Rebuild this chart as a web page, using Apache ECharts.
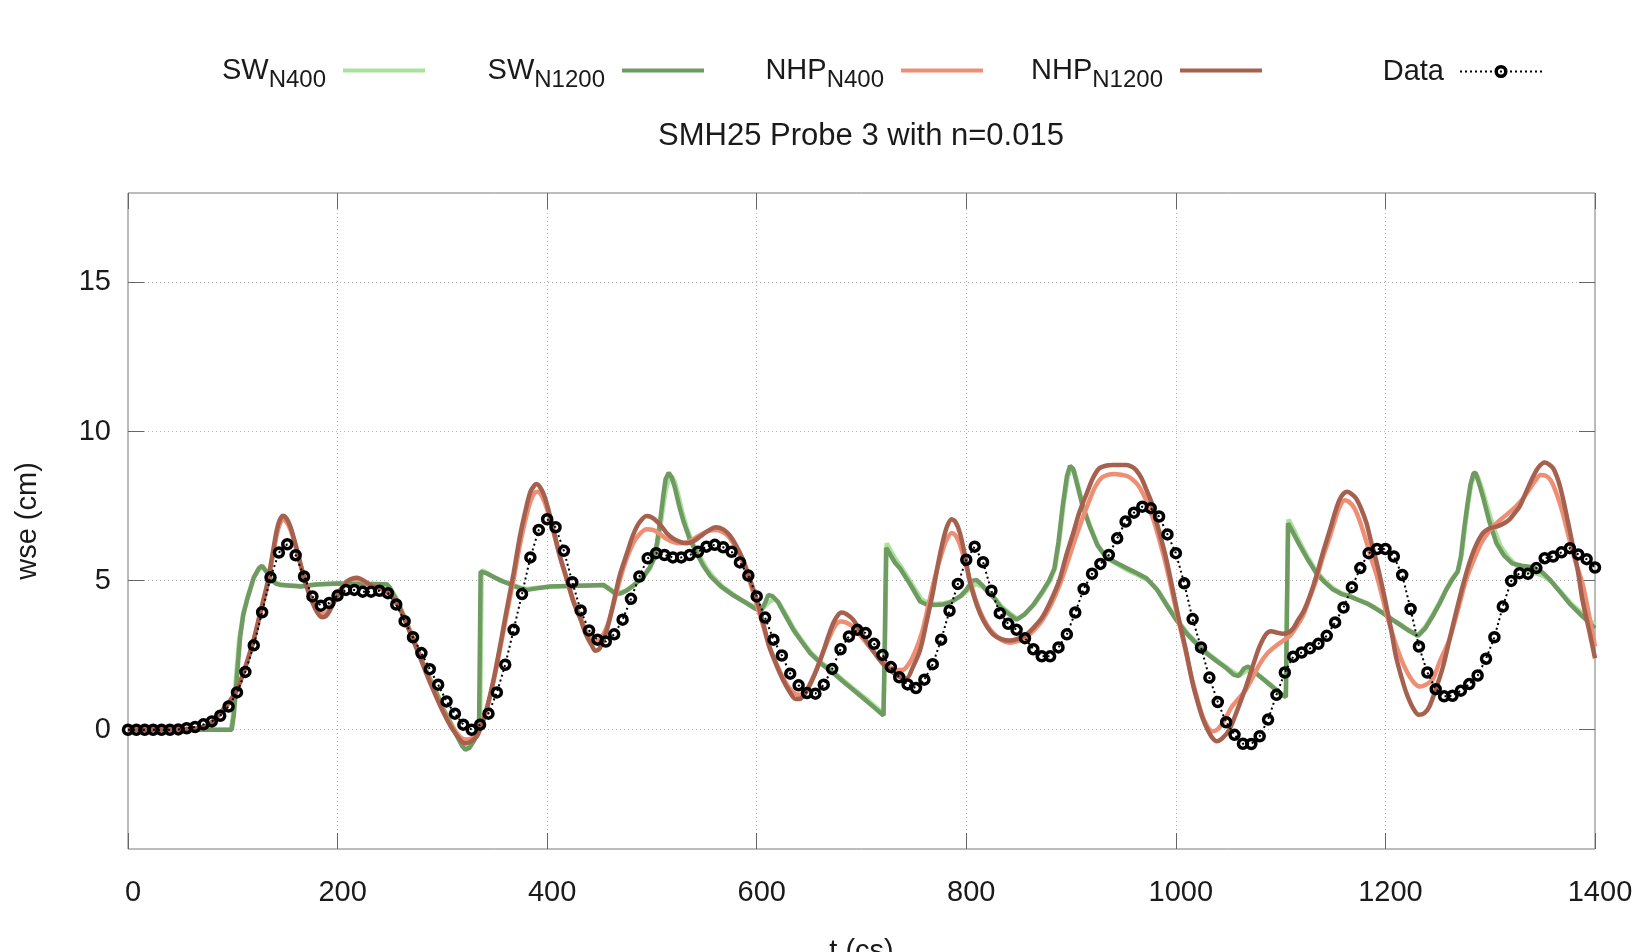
<!DOCTYPE html>
<html lang="en">
<head>
<meta charset="UTF-8">
<title>SMH25 Probe 3</title>
<script src="https://cdn.jsdelivr.net/npm/echarts@6/dist/echarts.min.js"></script>
<style>
  html, body { margin: 0; padding: 0; background: #fff; }
  #chart { width: 1633px; height: 952px; }
</style>
</head>
<body>
<div id="chart"></div>
<script>
// ---- data ----
var xTicks = [0, 1400, 200];          // min, max, step (t in cs)
var yTicks = [0, 5, 10, 15];          // labelled wse ticks

// measured probe data, one sample every 8 cs from t=0
var DATA_DT = 8;
var probeData = [
  0, 0, 0, 0, 0, 0, 0.01, 0.05, 0.09, 0.18,
  0.28, 0.47, 0.78, 1.25, 1.94, 2.83, 3.94, 5.11, 5.94, 6.22,
  5.85, 5.14, 4.47, 4.16, 4.25, 4.5, 4.69, 4.69, 4.63, 4.63,
  4.66, 4.58, 4.2, 3.64, 3.1, 2.57, 2.03, 1.51, 0.95, 0.54,
  0.17, 0.0, 0.17, 0.54, 1.25, 2.18, 3.35, 4.55, 5.78, 6.7,
  7.06, 6.79, 6.0, 4.95, 4.0, 3.33, 3.02, 2.96, 3.2, 3.69,
  4.39, 5.14, 5.75, 5.92, 5.86, 5.78, 5.78, 5.86, 5.97, 6.14,
  6.2, 6.12, 5.97, 5.61, 5.17, 4.47, 3.76, 3.02, 2.49, 1.88,
  1.49, 1.23, 1.21, 1.51, 2.04, 2.7, 3.13, 3.35, 3.24, 2.88,
  2.51, 2.1, 1.76, 1.52, 1.4, 1.68, 2.2, 3.02, 3.99, 4.89,
  5.7, 6.14, 5.62, 4.66, 3.91, 3.55, 3.35, 3.07, 2.7, 2.46,
  2.46, 2.76, 3.2, 3.93, 4.72, 5.23, 5.56, 5.86, 6.42, 6.98,
  7.28, 7.48, 7.43, 7.15, 6.55, 5.92, 4.91, 3.71, 2.76, 1.75,
  0.93, 0.25, -0.17, -0.47, -0.48, -0.22, 0.34, 1.17, 1.92, 2.45,
  2.59, 2.73, 2.88, 3.15, 3.6, 4.1, 4.78, 5.42, 5.92, 6.06,
  6.06, 5.81, 5.19, 4.05, 2.79, 1.92, 1.36, 1.12, 1.14, 1.31,
  1.53, 1.82, 2.38, 3.1, 4.13, 4.99, 5.25, 5.23, 5.42, 5.75,
  5.81, 5.95, 6.09, 5.88, 5.72, 5.44
];

// model runs as [t, wse]
var swN1200 = [
  [0,0],[99,0],[101,0.5],[104,1.8],[107,3.1],[110,3.85],[114,4.4],[120,5.1],[125,5.42],[128,5.5],
  [132,5.3],[136,5.05],[141,4.9],[146,4.85],[165,4.8],[180,4.87],[200,4.9],[247,4.88],[250,4.75],[257,4.3],
  [263,3.8],[270,3.2],[278,2.5],[286,1.85],[294,1.25],[301,0.67],[308,0.2],[314,-0.22],[319,-0.55],[322,-0.67],
  [326,-0.6],[330,-0.38],[334,-0.05],[335,0.05],[336.5,5.3],[342,5.25],[349,5.12],[356,5.0],[362,4.92],[370,4.8],
  [376,4.72],[381,4.69],[390,4.74],[403,4.8],[420,4.82],[440,4.84],[454,4.85],[460,4.7],[465,4.56],[470,4.57],
  [476,4.67],[483,4.85],[492,5.14],[498,5.45],[502,5.75],[505,6.3],[508,7.05],[511,7.9],[513,8.4],[516,8.62],
  [519,8.45],[522,8.1],[526,7.5],[530,7.0],[536,6.4],[543,5.9],[549,5.5],[556,5.14],[566,4.8],[578,4.5],
  [590,4.25],[598,4.07],[604,3.98],[608,4.25],[611,4.52],[615,4.48],[620,4.3],[627,3.85],[635,3.35],[643,2.95],
  [651,2.57],[662,2.2],[673,1.9],[683,1.6],[692,1.34],[702,1.05],[712,0.75],[721,0.48],[722,2.5],[723.5,6.1],
  [727,5.9],[732,5.6],[737,5.4],[746,4.9],[756,4.3],[762,4.2],[769,4.18],[778,4.2],[785,4.27],[795,4.5],
  [800,4.69],[806,5.0],[810,5.02],[815,4.85],[820,4.65],[827,4.4],[833,4.1],[840,3.9],[848,3.69],[855,3.85],
  [864,4.19],[872,4.6],[879,5.0],[884,5.4],[888,6.3],[892,7.5],[896,8.5],[899,8.85],[902,8.75],[906,8.2],
  [911,7.5],[918,6.8],[925,6.2],[933,5.8],[943,5.6],[953,5.42],[963,5.25],[972,5.08],[982,4.7],[991,4.19],
  [1000,3.7],[1010,3.24],[1020,2.87],[1029,2.57],[1039,2.3],[1048,2.07],[1055,1.85],[1060,1.8],[1065,2.05],[1069,2.12],
  [1074,1.98],[1080,1.79],[1090,1.5],[1100,1.2],[1105,1.1],[1106,4.0],[1107,6.92],[1112,6.6],[1118,6.2],[1126,5.7],
  [1134,5.25],[1142,4.95],[1150,4.7],[1158,4.55],[1166,4.47],[1174,4.35],[1182,4.24],[1190,4.08],[1198,3.9],[1206,3.7],
  [1214,3.52],[1222,3.33],[1231,3.15],[1238,3.4],[1245,3.8],[1252,4.25],[1258,4.69],[1264,5.05],[1269,5.3],[1272,5.8],
  [1275,6.7],[1278,7.5],[1281,8.2],[1284,8.6],[1286,8.62],[1289,8.3],[1293,7.82],[1299,7.0],[1306,6.25],[1313,5.85],
  [1321,5.58],[1330,5.5],[1341,5.45],[1349,5.3],[1357,5.03],[1366,4.65],[1376,4.22],[1388,3.8],[1400,3.41]
];

var swN400 = [
  [0,0],[98,0],[100,0.4],[103,1.7],[106,3.0],[110,3.9],[114,4.45],[120,5.1],[125,5.38],[129,5.45],
  [133,5.28],[137,5.05],[142,4.92],[147,4.86],[165,4.82],[180,4.88],[200,4.9],[247,4.88],[250,4.78],[257,4.35],
  [263,3.85],[270,3.25],[278,2.55],[286,1.9],[294,1.3],[301,0.72],[308,0.25],[314,-0.15],[319,-0.45],[323,-0.58],
  [327,-0.52],[331,-0.3],[335,0.0],[336,0.1],[337.5,5.35],[343,5.25],[349,5.12],[356,5.0],[362,4.92],[370,4.82],
  [376,4.75],[381,4.72],[390,4.76],[403,4.8],[420,4.82],[440,4.84],[454,4.85],[460,4.72],[465,4.6],[470,4.6],
  [476,4.68],[483,4.86],[492,5.12],[498,5.4],[503,5.8],[507,6.5],[510,7.3],[513,8.0],[516,8.4],[519,8.5],
  [522,8.3],[525,7.9],[529,7.3],[533,6.8],[539,6.25],[546,5.8],[552,5.42],[559,5.1],[568,4.78],[580,4.48],
  [592,4.22],[600,4.1],[606,4.08],[611,4.25],[616,4.38],[621,4.28],[628,3.85],[636,3.35],[644,2.95],[652,2.58],
  [663,2.22],[674,1.92],[684,1.62],[693,1.36],[703,1.08],[713,0.78],[721,0.55],[722.5,2.8],[724,6.25],[728,6.0],
  [733,5.7],[738,5.45],[747,4.95],[757,4.38],[763,4.26],[770,4.22],[779,4.24],[786,4.3],[796,4.5],[801,4.66],
  [806,4.82],[810,4.88],[815,4.8],[821,4.62],[828,4.38],[834,4.12],[841,3.92],[849,3.72],[856,3.88],[865,4.2],
  [873,4.6],[880,5.0],[885,5.45],[889,6.4],[893,7.6],[897,8.5],[900,8.8],[903,8.68],[907,8.15],[912,7.45],
  [919,6.75],[926,6.15],[934,5.75],[944,5.55],[954,5.35],[964,5.18],[974,5.0],[984,4.62],[993,4.12],[1002,3.65],
  [1012,3.2],[1022,2.85],[1031,2.55],[1041,2.28],[1050,2.05],[1057,1.88],[1062,1.85],[1066,1.95],[1070,1.98],[1075,1.92],
  [1081,1.78],[1091,1.5],[1100,1.22],[1105,1.12],[1106,4.1],[1107.5,7.05],[1112,6.75],[1118,6.3],[1126,5.78],[1134,5.32],
  [1142,5.0],[1150,4.75],[1158,4.58],[1166,4.48],[1174,4.36],[1182,4.25],[1190,4.1],[1198,3.92],[1206,3.72],[1214,3.54],
  [1222,3.35],[1231,3.18],[1238,3.45],[1245,3.85],[1252,4.3],[1258,4.72],[1264,5.08],[1269,5.32],[1273,5.9],[1276,6.8],
  [1279,7.6],[1282,8.25],[1285,8.55],[1288,8.5],[1292,8.1],[1297,7.5],[1303,6.8],[1310,6.15],[1317,5.8],[1325,5.5],
  [1334,5.32],[1343,5.25],[1351,5.15],[1359,4.95],[1368,4.6],[1378,4.2],[1390,3.85],[1400,3.5]
];

var nhpN1200 = [
  [0,0],[50,0.02],[69,0.06],[80,0.25],[88,0.56],[96,0.9],[104,1.34],[112,2.1],[120,3.02],[126,3.9],
  [133,4.91],[138,5.9],[142,6.7],[145,7.05],[148,7.18],[151,7.1],[155,6.81],[160,6.2],[165,5.5],[170,4.85],
  [175,4.35],[180,3.97],[185,3.77],[190,3.85],[196,4.24],[202,4.62],[209,4.97],[214,5.07],[219,5.1],[225,5.0],
  [231,4.86],[240,4.75],[247,4.63],[253,4.4],[260,4.02],[267,3.45],[276,2.68],[284,1.95],[292,1.28],[300,0.65],
  [308,0.11],[314,-0.2],[318,-0.38],[322,-0.45],[327,-0.4],[333,-0.22],[338,0.2],[343,0.78],[349,1.7],[355,2.79],
  [361,3.95],[368,5.25],[374,6.48],[379,7.3],[384,7.98],[388,8.2],[390,8.24],[393,8.15],[397,7.87],[401,7.4],
  [406,6.7],[412,5.85],[419,5.03],[425,4.3],[432,3.69],[437,3.2],[443,2.8],[446,2.65],[450,2.72],[457,3.35],
  [463,4.2],[469,5.14],[476,5.9],[482,6.53],[488,6.95],[495,7.17],[501,7.1],[508,6.87],[514,6.6],[520,6.42],
  [527,6.3],[533,6.25],[540,6.33],[546,6.48],[553,6.66],[561,6.79],[568,6.72],[574,6.53],[580,6.2],[587,5.7],
  [593,5.1],[600,4.36],[606,3.6],[612,2.79],[619,2.15],[625,1.68],[631,1.3],[637,1.03],[641,1.03],[645,1.15],
  [650,1.45],[657,2.0],[663,2.57],[668,3.1],[673,3.57],[677,3.82],[681,3.93],[686,3.87],[692,3.69],[698,3.35],
  [705,2.96],[712,2.6],[720,2.23],[727,2.0],[733,1.84],[738,1.75],[743,1.72],[749,2.1],[756,2.68],[762,3.6],
  [768,4.58],[773,5.55],[778,6.37],[782,6.85],[786,7.06],[790,6.95],[794,6.59],[799,5.8],[803,5.03],[808,4.4],
  [813,3.91],[819,3.5],[826,3.18],[833,3.05],[841,2.99],[849,3.05],[857,3.18],[865,3.45],[873,3.8],[881,4.35],
  [889,5.03],[895,5.8],[902,6.59],[908,7.3],[915,7.93],[921,8.45],[927,8.77],[934,8.86],[940,8.88],[947,8.88],
  [953,8.88],[958,8.82],[962,8.71],[967,8.45],[972,8.04],[977,7.6],[981,7.04],[986,6.4],[991,5.7],[997,4.7],
  [1003,3.69],[1010,2.6],[1016,1.56],[1021,0.9],[1026,0.34],[1031,-0.05],[1035,-0.28],[1039,-0.39],[1044,-0.3],[1051,0.0],
  [1058,0.6],[1067,1.45],[1074,2.2],[1080,2.8],[1086,3.2],[1091,3.3],[1096,3.26],[1102,3.22],[1107,3.25],[1112,3.4],
  [1117,3.7],[1122,3.98],[1128,4.5],[1134,5.14],[1140,5.9],[1147,6.7],[1152,7.3],[1156,7.7],[1160,7.92],[1164,7.98],
  [1168,7.9],[1172,7.76],[1177,7.4],[1182,6.92],[1186,6.35],[1191,5.7],[1196,4.95],[1201,4.13],[1206,3.25],[1210,2.46],
  [1215,1.8],[1220,1.23],[1226,0.75],[1232,0.5],[1237,0.55],[1242,0.78],[1248,1.35],[1255,2.12],[1261,3.0],[1268,4.02],
  [1274,4.85],[1280,5.58],[1286,6.15],[1293,6.59],[1299,6.75],[1306,6.81],[1312,6.9],[1318,7.04],[1323,7.25],[1328,7.48],
  [1334,7.95],[1341,8.49],[1346,8.8],[1352,8.96],[1356,8.9],[1360,8.77],[1365,8.35],[1369,7.82],[1374,7.0],[1379,6.14],
  [1384,5.25],[1388,4.36],[1394,3.4],[1400,2.4]
];

var nhpN400 = [
  [0,0],[50,0.02],[69,0.06],[80,0.25],[88,0.56],[96,0.9],[104,1.34],[112,2.1],[120,3.02],[126,3.85],
  [133,4.85],[138,5.8],[142,6.55],[145,6.9],[148,7.05],[151,6.98],[155,6.72],[160,6.15],[165,5.5],[170,4.9],
  [175,4.4],[180,4.05],[185,3.88],[190,3.95],[196,4.3],[202,4.66],[209,4.98],[214,5.05],[219,5.05],[225,4.97],
  [231,4.86],[240,4.75],[247,4.63],[253,4.42],[260,4.05],[267,3.5],[276,2.72],[284,2.0],[292,1.33],[300,0.7],
  [308,0.17],[314,-0.12],[318,-0.27],[322,-0.33],[327,-0.3],[333,-0.12],[338,0.25],[343,0.8],[349,1.65],[355,2.7],
  [361,3.8],[368,5.05],[374,6.2],[379,7.0],[384,7.65],[388,7.95],[391,7.98],[394,7.9],[398,7.6],[402,7.15],
  [407,6.5],[413,5.7],[419,5.0],[425,4.35],[432,3.75],[438,3.25],[444,2.98],[448,2.96],[452,3.1],[458,3.55],
  [464,4.3],[470,5.1],[476,5.75],[482,6.25],[488,6.55],[495,6.72],[501,6.7],[508,6.55],[514,6.4],[520,6.3],
  [527,6.25],[533,6.28],[540,6.4],[547,6.55],[555,6.68],[562,6.7],[569,6.6],[575,6.4],[581,6.05],[588,5.5],
  [594,4.9],[600,4.2],[606,3.5],[612,2.8],[619,2.2],[625,1.75],[631,1.4],[637,1.2],[642,1.17],[646,1.25],
  [651,1.55],[658,2.1],[664,2.65],[670,3.15],[675,3.5],[680,3.63],[685,3.6],[692,3.45],[698,3.2],[705,2.9],
  [712,2.6],[720,2.3],[727,2.1],[733,2.0],[739,2.0],[745,2.2],[751,2.6],[758,3.3],[764,4.2],[770,5.1],
  [776,5.85],[781,6.35],[786,6.6],[790,6.5],[794,6.2],[799,5.6],[804,4.95],[809,4.35],[814,3.9],[820,3.5],
  [827,3.2],[834,3.0],[841,2.92],[849,2.97],[857,3.1],[865,3.35],[873,3.7],[881,4.2],[889,4.85],[896,5.55],
  [903,6.3],[910,7.0],[917,7.65],[923,8.15],[929,8.45],[935,8.55],[941,8.58],[948,8.55],[954,8.5],[959,8.38],
  [964,8.2],[969,7.9],[974,7.5],[979,7.0],[984,6.4],[989,5.75],[995,4.85],[1001,3.9],[1008,2.85],[1014,1.9],
  [1020,1.1],[1025,0.5],[1030,0.12],[1035,-0.05],[1040,0.02],[1046,0.3],[1053,0.75],[1060,1.05],[1067,1.35],[1074,1.8],
  [1080,2.2],[1087,2.55],[1095,2.8],[1103,3.0],[1109,3.15],[1115,3.45],[1121,3.8],[1127,4.35],[1134,5.03],[1140,5.75],
  [1147,6.48],[1152,7.05],[1156,7.45],[1161,7.7],[1165,7.65],[1170,7.45],[1175,7.05],[1181,6.4],[1186,5.8],[1191,5.25],
  [1196,4.6],[1201,3.9],[1206,3.3],[1211,2.75],[1217,2.2],[1223,1.79],[1228,1.55],[1233,1.45],[1238,1.5],[1245,1.68],
  [1252,2.3],[1261,3.02],[1269,4.0],[1277,5.03],[1285,5.75],[1292,6.3],[1300,6.7],[1310,7.05],[1321,7.37],[1330,7.7],
  [1337,8.04],[1343,8.35],[1348,8.54],[1353,8.52],[1358,8.35],[1364,7.85],[1369,7.3],[1374,6.6],[1380,5.8],[1388,4.91],
  [1394,3.9],[1400,2.79]
];

// legend names with their subscripts
var seriesNames = ['SW_N400', 'SW_N1200', 'NHP_N400', 'NHP_N1200', 'Data'];
var seriesColors = ['#a9e29a', '#6f9b63', '#ee8f75', '#a6604e', '#000000'];

var FONT = 'Liberation Sans';
var TXT = '#1a1a1a';

function legendText(name) {
    var p = name.split('_');
    if (p.length < 2) return '{m|' + name + '}{g|}';
    return '{m|' + p[0] + '}{s|' + p[1] + '}';
}

var legendRich = {
    m: { fontSize: 29, fontFamily: FONT, color: TXT },
    s: { fontSize: 24, fontFamily: FONT, color: TXT, padding: [20, 12, 0, 0] },
    g: { fontSize: 29, fontFamily: FONT, padding: [0, 11, 0, 0] }
};

// one legend per entry, so they sit in fixed columns like the original key
var legendRight = [1206, 927, 648, 369, 90];
var legends = seriesNames.map(function (n, i) {
    var lg = {
        data: [n],
        right: legendRight[i],
        top: 56,
        orient: 'horizontal',
        align: 'right',
        padding: 0,
        itemWidth: 82,
        itemHeight: 12,
        selectedMode: false,
        formatter: legendText,
        textStyle: { rich: legendRich },
        lineStyle: { width: 4 },
        itemStyle: { opacity: 0, color: 'rgba(0,0,0,0)', borderWidth: 0 }
    };
    if (n === 'Data') {
        lg.top = 57;
        lg.lineStyle = { width: 2 };
        lg.itemStyle = { borderWidth: 3.5 };
    }
    return lg;
});

var gridLine = { type: [1, 3], color: '#b4b4b4', width: 1 };
var tickStyle = { color: '#666', width: 1 };

function plainNum(v) { return String(v); }

var modelSets = [swN400, swN1200, nhpN400, nhpN1200];
var series = modelSets.map(function (d, i) {
    return {
        name: seriesNames[i],
        type: 'line',
        data: d,
        symbol: 'none',
        smooth: i >= 2 ? 0.3 : false,
        lineStyle: { color: seriesColors[i], width: 4.5 },
        itemStyle: { color: seriesColors[i] },
        z: 2 + i
    };
});
series.push({
    name: 'Data',
    type: 'line',
    data: probeData.map(function (v, i) { return [i * DATA_DT, v]; }),
    symbol: 'circle',
    symbolSize: 9,
    showAllSymbol: true,
    itemStyle: { color: 'rgba(255,255,255,0)', borderColor: '#000', borderWidth: 3.5 },
    lineStyle: { color: '#000', width: 2, type: [2, 3] },
    z: 10
});

var chart = echarts.init(document.getElementById('chart'), null, { renderer: 'canvas' });
var option = {
    animation: false,
    backgroundColor: '#fff',
    title: {
        text: 'SMH25 Probe 3 with n=0.015',
        left: 861,
        top: 121,
        padding: 0,
        textAlign: 'center',
        textStyle: { fontSize: 31, fontWeight: 'normal', fontFamily: FONT, color: TXT }
    },
    legend: legends,
    grid: {
        left: 128, right: 38, top: 193, bottom: 103,
        show: true, borderColor: '#7a7a7a', borderWidth: 1,
        outerBoundsMode: 'none', containLabel: false
    },
    xAxis: [{
        type: 'value',
        min: xTicks[0], max: xTicks[1], interval: xTicks[2],
        axisLine: { show: false, onZero: false },
        axisTick: { inside: true, length: 16, lineStyle: tickStyle },
        axisLabel: { fontSize: 29, fontFamily: FONT, color: TXT, margin: 29, padding: [0, 0, 0, 10], formatter: plainNum },
        splitLine: { show: true, lineStyle: gridLine },
        name: 't (cs)',
        nameLocation: 'middle',
        nameGap: 88,
        nameMoveOverlap: false,
        nameTextStyle: { fontSize: 29, fontFamily: FONT, color: TXT }
    }, {
        type: 'value', position: 'top',
        min: xTicks[0], max: xTicks[1], interval: xTicks[2],
        axisLine: { show: false, onZero: false },
        axisTick: { inside: true, length: 16, lineStyle: tickStyle },
        axisLabel: { show: false },
        splitLine: { show: false }
    }],
    yAxis: [{
        type: 'value',
        min: -4, max: 18,
        axisLine: { show: false, onZero: false },
        axisTick: { inside: true, length: 16, customValues: yTicks, lineStyle: tickStyle },
        axisLabel: { customValues: yTicks, fontSize: 29, fontFamily: FONT, color: TXT, margin: 17, formatter: plainNum },
        splitLine: { show: true, lineStyle: gridLine },
        name: 'wse (cm)',
        nameLocation: 'middle',
        nameGap: 86,
        nameMoveOverlap: false,
        nameTextStyle: { fontSize: 29, fontFamily: FONT, color: TXT }
    }, {
        type: 'value', position: 'right',
        min: -4, max: 18,
        axisLine: { show: false, onZero: false },
        axisTick: { inside: true, length: 16, customValues: yTicks, lineStyle: tickStyle },
        axisLabel: { show: false },
        splitLine: { show: false }
    }],
    series: series
};
chart.setOption(option);
</script>
</body>
</html>
